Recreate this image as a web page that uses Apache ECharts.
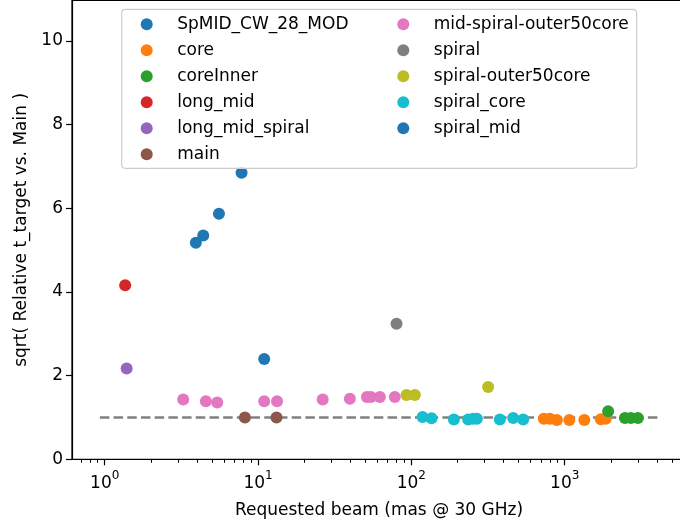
<!DOCTYPE html>
<html>
<head>
<meta charset="utf-8">
<title>sqrt(Relative t_target vs. Main)</title>
<script src="https://cdn.jsdelivr.net/npm/echarts@6/dist/echarts.min.js"></script>
<style>
  html, body { margin: 0; padding: 0; background: #fff; }
  #chart { width: 680px; height: 525px; }
</style>
</head>
<body>
<div id="chart"></div>
<script>
// Configurations, in legend order
const seriesNames = [
  'SpMID_CW_28_MOD', 'core', 'coreInner', 'long_mid', 'long_mid_spiral', 'main',
  'mid-spiral-outer50core', 'spiral', 'spiral-outer50core', 'spiral_core', 'spiral_mid'
];

// Requested beam (mas @ 30 GHz) and sqrt of relative time per configuration
const spmidX = [10.97];
const spmidY = [2.40];
const coreX = [731, 800, 889, 1072, 1343, 1720, 1852];
const coreY = [0.97, 0.97, 0.94, 0.94, 0.94, 0.96, 0.97];
const coreInnerX = [1920, 2470, 2700, 3000];
const coreInnerY = [1.15, 0.99, 0.99, 0.99];
const longMidX = [1.36];
const longMidY = [4.16];
const longMidSpiralX = [1.39];
const longMidSpiralY = [2.17];
const mainX = [8.21, 13.2];
const mainY = [1.0, 1.0];
const midSpiralOuterX = [3.25, 4.57, 5.42, 10.97, 13.3, 26.4, 39.7, 51.3, 54.4, 62.3, 78.0];
const midSpiralOuterY = [1.43, 1.39, 1.36, 1.39, 1.39, 1.43, 1.45, 1.49, 1.49, 1.49, 1.49];
const spiralX = [80.0];
const spiralY = [3.24];
const spiralOuterX = [93.0, 105.4, 316.7];
const spiralOuterY = [1.54, 1.54, 1.73];
const spiralCoreX = [118.3, 135.4, 189.3, 234.6, 252.7, 267.4, 377.6, 461.2, 535.9];
const spiralCoreY = [1.01, 0.98, 0.95, 0.95, 0.97, 0.97, 0.95, 0.99, 0.95];
const spiralMidX = [3.93, 4.39, 5.56, 7.81];
const spiralMidY = [5.18, 5.35, 5.87, 6.85];

// Reference level (equal to main)
const refX = [0.93, 4070];
const refY = [1, 1];

// Axis ticks
const xMajorTicks = [1, 10, 100, 1000];
const xMinorTicks = [0.7, 0.8, 0.9, 2, 3, 4, 5, 6, 7, 8, 9, 20, 30, 40, 50, 60, 70, 80, 90,
  200, 300, 400, 500, 600, 700, 800, 900, 2000, 3000, 4000, 5000, 6000];
const yTicks = [0, 2, 4, 6, 8, 10];

const seriesX = [spmidX, coreX, coreInnerX, longMidX, longMidSpiralX, mainX,
  midSpiralOuterX, spiralX, spiralOuterX, spiralCoreX, spiralMidX];
const seriesY = [spmidY, coreY, coreInnerY, longMidY, longMidSpiralY, mainY,
  midSpiralOuterY, spiralY, spiralOuterY, spiralCoreY, spiralMidY];

const palette = ['#1f77b4', '#ff7f0e', '#2ca02c', '#d62728', '#9467bd', '#8c564b',
  '#e377c2', '#7f7f7f', '#bcbd22', '#17becf', '#1f77b4'];

const FONT = 'DejaVu Sans';
const X_MIN = 0.612, X_MAX = 6180;
const Y_MIN = 0, Y_MAX = 10.97;

const zip = (xs, ys) => xs.map((x, i) => [x, ys[i]]);

const scatterSeries = seriesNames.map((name, i) => ({
  name: name,
  type: 'scatter',
  data: zip(seriesX[i], seriesY[i]),
  symbol: 'circle',
  symbolSize: 12,
  itemStyle: { color: palette[i], opacity: 1 },
  z: 3
}));

const refSeries = {
  name: 'ref',
  type: 'line',
  data: zip(refX, refY),
  symbol: 'none',
  lineStyle: { color: '#808080', width: 2.5, type: [9.5, 4.2] },
  z: 2,
  silent: true
};

const legendCommon = {
  orient: 'vertical',
  top: 11.2,
  padding: 0,
  itemWidth: 51,
  itemHeight: 12,
  itemGap: 0,
  icon: 'circle',
  z: 20,
  selectedMode: false,
  textStyle: { fontFamily: FONT, fontSize: 17, color: '#000', lineHeight: 26 }
};

const chart = echarts.init(document.getElementById('chart'), null, { renderer: 'canvas' });

chart.setOption({
  animation: false,
  backgroundColor: '#fff',
  grid: {
    left: 72, right: -6, top: 0.5, bottom: 65.7,
    show: true, borderColor: '#000', borderWidth: 1.2, backgroundColor: 'transparent',
    outerBoundsMode: 'none'
  },
  legend: [
    Object.assign({}, legendCommon, { left: 140.7, data: seriesNames.slice(0, 6) }),
    Object.assign({}, legendCommon, { left: 397.3, data: seriesNames.slice(6) })
  ],
  graphic: [{
    type: 'rect',
    z: 10,
    silent: true,
    shape: { x: 121.7, y: 9.3, width: 515, height: 159, r: 3.5 },
    style: { fill: 'rgba(255,255,255,0.8)', stroke: '#cccccc', lineWidth: 1.2 }
  }],
  xAxis: [{
    type: 'log',
    logBase: 10,
    min: X_MIN,
    max: X_MAX,
    name: 'Requested beam (mas @ 30 GHz)',
    nameLocation: 'middle',
    nameGap: 43,
    nameTextStyle: { fontFamily: FONT, fontSize: 17, color: '#000' },
    axisLine: { show: true, onZero: false, lineStyle: { color: '#000', width: 1.2 } },
    axisTick: { show: true, length: 6, customValues: xMajorTicks, lineStyle: { color: '#000', width: 1.2 } },
    axisLabel: {
      customValues: xMajorTicks,
      margin: 11,
      formatter: function (v) {
        const e = Math.round(Math.log10(v));
        return '{b|10}{e|' + e + '}';
      },
      rich: {
        b: { fontFamily: FONT, fontSize: 17, color: '#000', lineHeight: 22, verticalAlign: 'bottom' },
        e: { fontFamily: FONT, fontSize: 12, color: '#000', lineHeight: 12, verticalAlign: 'top' }
      }
    },
    splitLine: { show: false },
    minorTick: { show: false }
  }, {
    type: 'log',
    logBase: 10,
    min: X_MIN,
    max: X_MAX,
    position: 'bottom',
    axisLine: { show: false, onZero: false },
    axisTick: { show: true, length: 3.5, customValues: xMinorTicks, lineStyle: { color: '#000', width: 1 } },
    axisLabel: { show: false },
    splitLine: { show: false }
  }],
  yAxis: {
    type: 'value',
    min: Y_MIN,
    max: Y_MAX,
    name: 'sqrt( Relative t_target vs. Main )',
    nameLocation: 'middle',
    nameGap: 41,
    nameTextStyle: { fontFamily: FONT, fontSize: 17, color: '#000' },
    axisLine: { show: true, onZero: false, lineStyle: { color: '#000', width: 1.2 } },
    axisTick: { show: true, length: 6, customValues: yTicks, lineStyle: { color: '#000', width: 1.2 } },
    axisLabel: { customValues: yTicks, margin: 9, fontFamily: FONT, fontSize: 17, color: '#000' },
    splitLine: { show: false }
  },
  series: [refSeries].concat(scatterSeries)
});
</script>
</body>
</html>
